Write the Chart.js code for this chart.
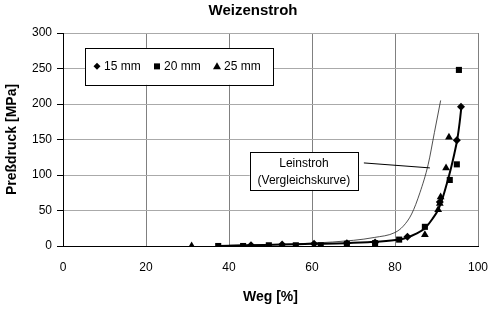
<!DOCTYPE html>
<html>
<head>
<meta charset="utf-8">
<script src="https://cdn.jsdelivr.net/npm/chart.js@4.4.0/dist/chart.umd.min.js"></script>
<style>
  html, body { margin: 0; padding: 0; background: #fff; }
  #contenedor { width: 490px; height: 315px; }
</style>
</head>
<body>
<div id="contenedor"><canvas id="graficoPresion"></canvas></div>
<script>
// valores (Weg [%] / Preßdruck [MPa])
const weg15 = [45.3, 52.8, 60.5, 68.4, 75.2, 83.0, 90.8, 94.9, 95.9];
const druck15 = [1, 2, 3, 4, 5, 13, 62, 149, 196];

const weg20 = [37.4, 43.4, 49.6, 56.1, 62.1, 68.4, 75.2, 81.0, 87.2, 93.2, 94.9, 95.4];
const druck20 = [0, 0, 1, 1, 1, 3, 4, 9, 27, 93, 115, 248];

const weg25 = [31.0, 87.2, 90.4, 90.8, 91.0, 92.3, 93.0];
const druck25 = [0, 16, 51, 60, 69, 110, 153];

// curva ajustada (trazo grueso)
const wegAjuste = [37.4, 45, 53, 60, 68, 75, 81, 83, 85, 87.2, 89, 90.4, 91.5, 92.5, 93.5, 94.3, 95.0, 95.6, 96.0];
const druckAjuste = [0, 1, 2, 3, 4, 6, 9, 12, 17, 25, 38, 51, 68, 88, 110, 130, 150, 175, 196];

// Leinstroh (Vergleichskurve), trazo fino
const wegLein = [40, 50, 60, 70, 75, 80, 82, 84, 86, 88, 89.5, 91];
const druckLein = [1, 2, 4, 8, 12, 19, 28, 45, 75, 115, 160, 205];

const ticksX = [0, 20, 40, 60, 80, 100];
const ticksY = [0, 50, 100, 150, 200, 250, 300];

const leyenda = ['15 mm', '20 mm', '25 mm'];
const formas = ['rectRot', 'rect', 'triangle'];

function puntos(xs, ys) {
  return xs.map(function (x, i) { return { x: x, y: ys[i] }; });
}

const fuente = "'Liberation Sans', Arial, sans-serif";

// dibuja un marcador simple en el canvas
function marcador(ctx, forma, x, y) {
  ctx.beginPath();
  if (forma === 'rectRot') {
    ctx.moveTo(x, y - 3.5); ctx.lineTo(x + 3.5, y); ctx.lineTo(x, y + 3.5); ctx.lineTo(x - 3.5, y);
  } else if (forma === 'rect') {
    ctx.rect(x - 3, y - 3, 6, 6);
  } else {
    ctx.moveTo(x, y - 4); ctx.lineTo(x + 4, y + 3); ctx.lineTo(x - 4, y + 3);
  }
  ctx.closePath();
  ctx.fill();
}

const cajas = {
  id: 'cajas',
  afterDatasetsDraw: function (chart) {
    const ctx = chart.ctx;
    const sx = chart.scales.x, sy = chart.scales.y;
    ctx.save();
    ctx.lineWidth = 1;
    ctx.strokeStyle = '#000';
    ctx.fillStyle = '#000';
    ctx.font = '12px ' + fuente;
    ctx.textBaseline = 'middle';

    // leyenda
    const lx1 = sx.getPixelForValue(5.3), lx2 = sx.getPixelForValue(50.6);
    const ly1 = sy.getPixelForValue(279), ly2 = sy.getPixelForValue(227);
    ctx.fillStyle = '#fff';
    ctx.fillRect(lx1, ly1, lx2 - lx1, ly2 - ly1);
    ctx.strokeRect(Math.round(lx1) + 0.5, Math.round(ly1) + 0.5, Math.round(lx2 - lx1), Math.round(ly2 - ly1));
    ctx.fillStyle = '#000';
    const ly = (ly1 + ly2) / 2;
    let px = lx1 + 12;
    leyenda.forEach(function (txt, i) {
      marcador(ctx, formas[i], px, ly);
      ctx.textAlign = 'left';
      ctx.fillText(txt, px + 7, ly);
      px += 60;
    });

    // caja Leinstroh
    const bx1 = sx.getPixelForValue(45), bx2 = sx.getPixelForValue(71.1);
    const by1 = sy.getPixelForValue(132), by2 = sy.getPixelForValue(79);
    ctx.fillStyle = '#fff';
    ctx.fillRect(bx1, by1, bx2 - bx1, by2 - by1);
    ctx.strokeRect(Math.round(bx1) + 0.5, Math.round(by1) + 0.5, Math.round(bx2 - bx1), Math.round(by2 - by1));
    ctx.fillStyle = '#000';
    ctx.textAlign = 'center';
    const bxm = (bx1 + bx2) / 2;
    ctx.fillText('Leinstroh', bxm, by1 + 11);
    ctx.fillText('(Vergleichskurve)', bxm, by1 + 28);

    // linea indicadora
    ctx.beginPath();
    ctx.moveTo(sx.getPixelForValue(72.5), sy.getPixelForValue(117));
    ctx.lineTo(sx.getPixelForValue(88.4), sy.getPixelForValue(110));
    ctx.stroke();
    ctx.restore();
  }
};

const estiloSerie = { backgroundColor: '#000', borderColor: '#000', showLine: false, pointBorderWidth: 0 };

let graficoPresion = new Chart(document.getElementById('graficoPresion'), {
  type: 'scatter',
  data: {
    datasets: [
      Object.assign({ label: leyenda[0], data: puntos(weg15, druck15), pointStyle: 'rectRot', pointRadius: 4 }, estiloSerie),
      Object.assign({ label: leyenda[1], data: puntos(weg20, druck20), pointStyle: 'rect', pointRadius: 4.3 }, estiloSerie),
      Object.assign({ label: leyenda[2], data: puntos(weg25, druck25), pointStyle: 'triangle', pointRadius: 4.5 }, estiloSerie),
      {
        label: 'Ajuste',
        data: puntos(wegAjuste, druckAjuste),
        showLine: true,
        borderColor: '#000',
        borderWidth: 2,
        pointRadius: 0,
        cubicInterpolationMode: 'monotone'
      },
      {
        label: 'Leinstroh',
        data: puntos(wegLein, druckLein),
        showLine: true,
        borderColor: '#222',
        borderWidth: 0.8,
        pointRadius: 0,
        cubicInterpolationMode: 'monotone'
      }
    ]
  },
  options: {
    responsive: true,
    maintainAspectRatio: false,
    animation: false,
    layout: { padding: { left: 16, right: 0, top: 0, bottom: 0 } },
    plugins: {
      legend: { display: false },
      tooltip: { enabled: false },
      title: {
        display: true,
        text: 'Weizenstroh',
        color: '#000',
        font: { family: fuente, size: 15, weight: 'bold' },
        padding: { top: 2, bottom: 13 }
      }
    },
    scales: {
      x: {
        type: 'linear',
        min: 0,
        max: 100,
        afterBuildTicks: function (scale) { scale.ticks = ticksX.map(function (v) { return { value: v }; }); },
        afterFit: function (scale) {
          scale.height = 69;
          scale.paddingLeft = 0;
          scale.paddingRight = 12;
        },
        ticks: { color: '#000', font: { family: fuente, size: 12 }, padding: 14, maxRotation: 0 },
        grid: { color: '#808080', lineWidth: 1, drawTicks: false },
        border: { color: '#000', width: 1 },
        title: {
          display: true,
          text: 'Weg [%]',
          color: '#000',
          font: { family: fuente, size: 14, weight: 'bold' },
          padding: { top: 0, bottom: 9 }
        }
      },
      y: {
        type: 'linear',
        min: 0,
        max: 300,
        afterBuildTicks: function (scale) { scale.ticks = ticksY.map(function (v) { return { value: v }; }); },
        afterFit: function (scale) {
          scale.width = 47;
          scale.paddingTop = 0;
          scale.paddingBottom = 0;
        },
        ticks: { color: '#000', font: { family: fuente, size: 12 }, padding: 5 },
        grid: { color: '#aaaaaa', lineWidth: 1, tickLength: 6, tickColor: '#000' },
        border: { color: '#000', width: 1 },
        title: {
          display: true,
          text: 'Preßdruck [MPa]',
          color: '#000',
          font: { family: fuente, size: 14, weight: 'bold' },
          padding: { top: -12, bottom: 0 }
        }
      }
    }
  },
  plugins: [cajas]
});
</script>
</body>
</html>
